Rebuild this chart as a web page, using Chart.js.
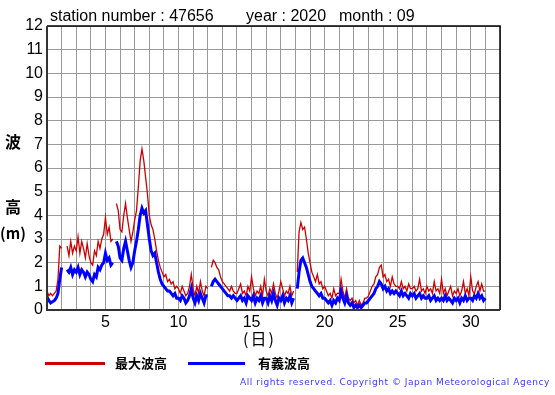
<!DOCTYPE html>
<html>
<head>
<meta charset="utf-8">
<script src="https://cdn.jsdelivr.net/npm/chart.js@4/dist/chart.umd.min.js"></script>
<style>
  html, body { margin: 0; padding: 0; background: #fff; }
  #wrap { position: relative; width: 555px; height: 395px; overflow: hidden; }
  #c { position: absolute; left: 0; top: 0; }
  .t { position: absolute; white-space: nowrap; color: #000; line-height: 16px; }
  .hdr { font: 16px "Liberation Sans", Arial, sans-serif; top: 7px; }
  .cjk { font-family: "Noto Sans CJK JP", sans-serif; font-weight: bold; }
  .lg { position: absolute; height: 3px; }
</style>
</head>
<body>
<div id="wrap">
  <canvas id="c" width="555" height="395"></canvas>
  <div class="t hdr" style="left:50px">station number : 47656</div>
  <div class="t hdr" style="left:246px">year : 2020</div>
  <div class="t hdr" style="left:339px">month : 09</div>
  <div class="t cjk" style="left:5px;top:133px;font-size:16px">波</div>
  <div class="t cjk" style="left:5px;top:198px;font-size:16px">高</div>
  <div class="t cjk" style="left:0px;top:225px;font-size:15px">(m)</div>
  <div class="t cjk" style="left:243px;top:330px;font-size:16px;font-weight:normal;letter-spacing:2px">(日)</div>
  <div class="lg" style="left:45px;top:362px;width:60px;background:#cc0000"></div>
  <div class="t cjk" style="left:115px;top:355px;font-size:13px">最大波高</div>
  <div class="lg" style="left:188px;top:362px;width:57px;background:#0000ff"></div>
  <div class="t cjk" style="left:258px;top:355px;font-size:13px">有義波高</div>
  <div id="copy" class="t" style="left:240px;top:377px;font:9px 'DejaVu Sans', Verdana, sans-serif;color:#3a3aff">All rights reserved. Copyright © Japan Meteorological Agency</div>
</div>
<script>
// ---- data (3-hourly values from day 1 00h to day 31 00h) ----
const startDay = 1;
const samplesPerDay = 8;
const xTickLabels = [5, 10, 15, 20, 25, 30];
const seriesNames = ['最大波高', '有義波高'];

const maxWave = [
  0.8,0.6,0.7,0.6,0.7,0.8,1.3,2.7,
  2.6,null,null,2.7,2.3,2.9,2.4,2.7,
  2.5,3.1,2.4,2.9,2.6,2.2,2.8,2.3,
  2.0,1.9,2.5,2.3,2.9,2.6,3.0,3.2,
  3.9,3.2,3.5,2.9,3.0,null,4.5,4.2,
  3.4,3.3,4.0,4.5,3.9,3.4,2.9,3.3,
  3.8,4.2,5.2,6.3,6.8,6.3,5.6,4.9,
  4.0,3.6,3.4,3.0,2.5,2.1,1.8,1.6,
  1.4,1.5,1.2,1.3,1.1,1.2,0.9,1.0,
  0.9,0.7,1.0,0.8,0.6,0.7,1.0,1.5,
  0.9,0.6,1.0,0.7,1.2,0.8,0.6,1.0,
  0.9,null,1.8,2.1,2.0,1.8,1.7,1.4,
  1.2,1.1,1.0,0.9,0.8,1.0,0.8,0.7,
  0.7,0.9,1.1,0.7,0.8,0.6,1.0,0.8,
  1.4,0.9,0.6,0.8,0.7,1.0,0.6,1.3,
  0.8,0.6,0.9,0.7,1.1,0.7,0.5,0.8,
  1.2,0.9,0.6,0.8,0.7,1.0,0.6,0.8,
  null,1.6,3.3,3.7,3.4,3.5,3.0,2.4,
  2.0,1.6,1.4,1.2,1.5,1.1,1.2,0.9,
  1.0,0.8,0.6,0.7,0.5,0.9,0.6,0.7,
  0.7,1.3,0.8,0.5,0.9,0.5,0.4,0.5,
  0.3,0.4,0.2,0.4,0.2,0.3,0.5,0.5,
  0.6,0.8,1.0,1.1,1.4,1.5,1.8,1.9,
  1.4,1.5,1.2,1.3,1.0,1.4,1.1,1.0,
  1.0,0.9,1.2,0.9,1.0,0.8,1.1,0.9,
  0.9,1.0,0.8,0.9,1.3,0.8,0.9,0.7,
  1.0,0.8,0.9,0.7,1.2,0.8,0.9,0.7,
  1.3,0.7,0.9,0.6,0.8,1.0,0.6,0.8,
  0.7,0.9,0.6,0.8,1.2,0.7,0.9,0.6,
  1.4,0.8,0.7,1.0,1.2,0.8,1.1,0.8,
  0.8
];

const sigWave = [
  0.55,0.4,0.3,0.35,0.4,0.5,0.7,1.3,
  1.8,null,null,1.7,1.6,1.8,1.5,1.7,
  1.6,1.8,1.5,1.7,1.6,1.4,1.6,1.5,
  1.3,1.2,1.5,1.4,1.8,1.7,1.9,2.0,
  2.4,2.1,2.2,1.9,2.0,null,2.9,2.7,
  2.2,2.1,2.6,2.9,2.5,2.1,1.8,2.0,
  2.5,2.9,3.4,4.0,4.3,4.1,4.2,3.6,
  3.0,2.5,2.3,2.4,2.0,1.6,1.3,1.1,
  1.0,0.9,0.8,0.8,0.7,0.6,0.7,0.5,
  0.5,0.4,0.6,0.5,0.3,0.4,0.6,0.9,
  0.5,0.3,0.6,0.4,0.7,0.5,0.3,0.6,
  0.6,null,1.0,1.2,1.3,1.2,1.1,1.0,
  0.9,0.8,0.7,0.6,0.6,0.5,0.6,0.5,
  0.4,0.5,0.6,0.4,0.5,0.3,0.6,0.5,
  0.4,0.6,0.3,0.5,0.4,0.6,0.3,0.5,
  0.5,0.3,0.6,0.4,0.7,0.4,0.2,0.5,
  0.4,0.6,0.3,0.5,0.4,0.6,0.3,0.5,
  null,0.9,1.6,2.1,2.2,2.0,1.8,1.5,
  1.2,1.0,0.9,0.8,0.7,0.6,0.7,0.5,
  0.5,0.4,0.3,0.4,0.2,0.4,0.3,0.5,
  0.4,0.8,0.5,0.3,0.6,0.3,0.2,0.3,
  0.1,0.2,0.1,0.2,0.1,0.2,0.3,0.3,
  0.4,0.5,0.6,0.7,0.9,1.0,1.2,1.1,
  0.9,1.0,0.8,0.9,0.7,0.8,0.7,0.8,
  0.7,0.6,0.8,0.6,0.7,0.6,0.5,0.7,
  0.6,0.7,0.5,0.6,0.7,0.5,0.6,0.5,
  0.5,0.6,0.4,0.5,0.6,0.4,0.5,0.4,
  0.5,0.4,0.6,0.4,0.5,0.4,0.3,0.5,
  0.4,0.5,0.3,0.5,0.4,0.6,0.4,0.5,
  0.5,0.4,0.6,0.5,0.7,0.5,0.6,0.4,
  0.5
];

const toPoints = arr => arr.map((v, i) => ({ x: startDay + i / samplesPerDay, y: v }));

// fit copyright width
(function () {
  const el = document.getElementById('copy');
  const n = el.textContent.length;
  const w = el.getBoundingClientRect().width;
  el.style.letterSpacing = ((310 - w) / n) + 'px';
})();

const framePlugin = {
  id: 'frame',
  afterDraw(chart) {
    const { ctx, chartArea: a } = chart;
    ctx.save();
    ctx.strokeStyle = '#000';
    ctx.lineWidth = 1.5;
    ctx.beginPath();
    ctx.moveTo(a.left, a.top);
    ctx.lineTo(a.right, a.top);
    ctx.lineTo(a.right, a.bottom);
    ctx.stroke();
    ctx.strokeStyle = '#333';
    ctx.lineWidth = 2;
    ctx.beginPath();
    ctx.moveTo(a.left, a.top);
    ctx.lineTo(a.left, a.bottom);
    ctx.lineTo(a.right, a.bottom);
    ctx.stroke();
    ctx.restore();
  }
};

new Chart(document.getElementById('c'), {
  type: 'line',
  data: {
    datasets: [
      { label: seriesNames[1], data: toPoints(sigWave), borderColor: '#0000ff', borderWidth: 3, pointRadius: 0, spanGaps: false, tension: 0, order: 1 },
      { label: seriesNames[0], data: toPoints(maxWave), borderColor: '#cc0000', borderWidth: 1.3, pointRadius: 0, spanGaps: false, tension: 0, order: 2 }
    ]
  },
  options: {
    responsive: false,
    animation: false,
    devicePixelRatio: 1,
    layout: { padding: { top: 26, right: 55, left: 0, bottom: 0 } },
    plugins: { legend: { display: false }, tooltip: { enabled: false }, title: { display: false } },
    scales: {
      x: {
        type: 'linear', min: 1, max: 32,
        afterFit: s => { s.height = 85; },
        grid: { color: '#999', lineWidth: 1, drawTicks: false },
        border: { display: false },
        ticks: {
          stepSize: 1, autoSkip: false, maxRotation: 0, padding: 3,
          color: '#000', font: { family: '"Liberation Sans", Arial, sans-serif', size: 16 },
          callback: v => xTickLabels.includes(v) ? String(v) : ''
        }
      },
      y: {
        min: 0, max: 12,
        afterFit: s => { s.width = 47; },
        grid: { color: '#999', lineWidth: 1, drawTicks: false },
        border: { display: false },
        ticks: {
          stepSize: 1, padding: 4,
          color: '#000', font: { family: '"Liberation Sans", Arial, sans-serif', size: 16 }
        }
      }
    }
  },
  plugins: [framePlugin]
});
</script>
</body>
</html>
